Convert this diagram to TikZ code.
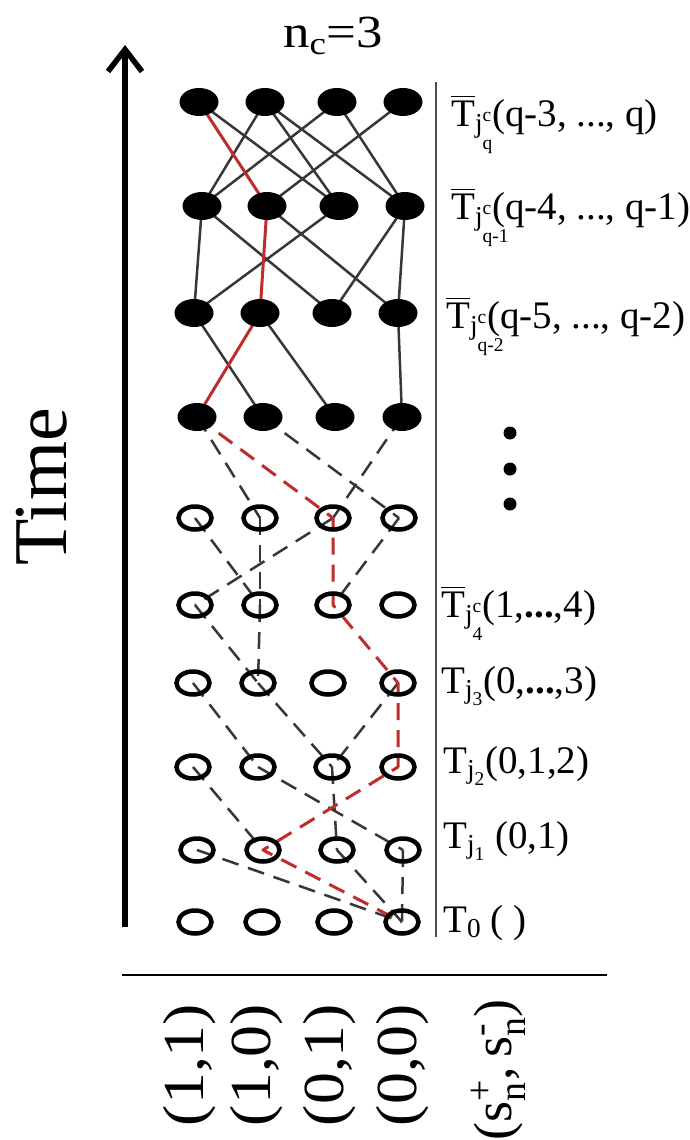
\documentclass[tikz,border=0pt]{standalone}
\usepackage{fix-cm}
\usepackage{amsmath}
\usepackage{fontspec}
\setmainfont{Liberation Serif}
\usetikzlibrary{shapes.geometric,arrows.meta,backgrounds}

\definecolor{pathred}{RGB}{190,45,45}
\definecolor{edgegray}{RGB}{55,55,55}
\newcommand{\stretched}[1]{\scalebox{1.1}[1]{#1}}
\newcommand{\lowsub}[1]{\rlap{\raisebox{-10pt}{$\scriptscriptstyle\text{#1}$}}}

\tikzset{
  fullnode/.style={ellipse, fill=black, minimum width=39pt, minimum height=28pt, inner sep=0pt},
  emptynode/.style={ellipse, draw=black, line width=4.5pt, minimum width=33pt, minimum height=23pt, inner sep=0pt},
  link/.style={draw=edgegray, line width=2.5pt},
  redlink/.style={draw=pathred, line width=3pt, line join=round},
  dlink/.style={link, dash pattern=on 17pt off 10pt},
  dredlink/.style={redlink, dash pattern=on 17pt off 10pt},
  lbl/.style={font=\fontsize{39}{44}\selectfont, inner sep=0pt, anchor=base west},
  axislbl/.style={font=\fontsize{58}{62}\selectfont, inner sep=0pt, rotate=90},
}

\begin{document}
\begin{tikzpicture}[x=1pt,y=-1pt]
\useasboundingbox (0,0) rectangle (689,1140);

\foreach \r/\y/\xs in {10/102/{199,265,337,403}, 9/206/{202,267,339,405},
                       8/313/{194,260,332,398}, 7/417/{197,263,335,402}}
  \foreach \x [count=\k] in \xs
    \node[fullnode] (n\r-\k) at (\x,\y) {};
\foreach \r/\y/\xs in {6/518/{195,260,333,399}, 5/605/{195,260,333,398},
                       4/683/{193,258,328,398}, 3/767/{193,258,332,398},
                       2/850/{197,263,337,403}, 1/922/{195,262,334,402}}
  \foreach \x [count=\k] in \xs
    \node[emptynode] (n\r-\k) at (\x,\y) {};

\begin{scope}[on background layer]
\foreach \a/\b in {10-1/9-3, 10-2/9-1, 10-2/9-3, 10-2/9-4, 10-3/9-1, 10-3/9-4, 10-4/9-2,
                   9-1/8-1, 9-1/8-3, 9-3/8-1, 9-2/8-4, 9-4/8-3, 9-4/8-4,
                   8-1/7-2, 8-2/7-3, 8-4/7-4}
  \draw[link] (n\a.center) -- (n\b.center);
\foreach \a/\b in {7-1/6-2, 7-2/6-4, 7-4/6-3, 6-1/5-2, 6-2/5-2, 6-3/5-1, 6-4/5-3,
                   5-1/4-2, 5-2/4-2, 4-1/3-2, 4-2/3-3, 4-4/3-3,
                   3-1/2-2, 3-2/2-4, 3-3/2-3, 2-1/1-4, 2-3/1-4, 2-4/1-4}
  \draw[dlink] (n\a.center) -- (n\b.center);
\draw[redlink] (n10-1.center) -- (n9-2.center) -- (n8-2.center) -- (n7-1.center);
\draw[dredlink] (n7-1.center) -- (n6-3.center) -- (n5-3.center) -- (n4-4.center)
  -- (n3-4.center) -- (n2-2.center) -- (n1-4.center);
\end{scope}

\coordinate (tbot) at (125,927);
\coordinate (ttop) at (125,45);
\draw[line width=5.5pt, -{Straight Barb[length=22pt,width=34pt]}] (tbot) -- (ttop);
\node[font=\fontsize{76}{80}\selectfont, inner sep=0pt, rotate=90] (time) at (42,487) {Time};

\node[font=\fontsize{46}{50}\selectfont, inner sep=0pt, anchor=base west] (nc) at (283,48)
  {\scalebox{1.15}[1]{n$_\text{c}$=3}};

\coordinate (septop) at (436,82);
\coordinate (sepbot) at (436,937);
\draw[line width=1.5pt, black!70] (septop) -- (sepbot);
\coordinate (axl) at (122,975);
\coordinate (axr) at (607,975);
\draw[line width=1.5pt] (axl) -- (axr);

\node[lbl] (l10) at (451,126) {$\overline{\text{T}}_{\text{j}^\text{c}_{\lowsub{q}}}$(q-3, ..., q)};
\node[lbl] (l9) at (451,219) {$\overline{\text{T}}_{\text{j}^\text{c}_{\lowsub{q-1}}}$(q-4, ..., q-1)};
\node[lbl] (l8) at (446,328) {$\overline{\text{T}}_{\text{j}^\text{c}_{\lowsub{q-2}}}$(q-5, ..., q-2)};
\foreach \y in {433,469,504}
  \fill (510,\y) circle (6.5pt);
\node[lbl] (l5) at (441,617) {$\overline{\text{T}}_{\text{j}^\text{c}_{\lowsub{4}}}$(1,\textbf{...},4)};
\node[lbl] (l4) at (441,693) {$\text{T}_{\text{j}_\text{3}}$(0,\textbf{...},3)};
\node[lbl] (l3) at (443,773) {$\text{T}_{\text{j}_\text{2}}$(0,1,2)};
\node[lbl] (l2) at (443,848) {$\text{T}_{\text{j}_\text{1}}$ (0,1)};
\node[lbl] (l1) at (443,932) {$\text{T}_\text{0}$ ( )};

\node[axislbl] (c1) at (190,1065) {\stretched{(1,1)}};
\node[axislbl] (c2) at (257,1065) {\stretched{(1,0)}};
\node[axislbl] (c3) at (330,1065) {\stretched{(0,1)}};
\node[axislbl] (c4) at (403,1065) {\stretched{(0,0)}};
\node[axislbl, font=\fontsize{54}{58}\selectfont] (c5) at (498,1070)
  {(s$^\text{+}_\text{n}$,\,s$^\text{-}_\text{n}$)};
\end{tikzpicture}
\end{document}
